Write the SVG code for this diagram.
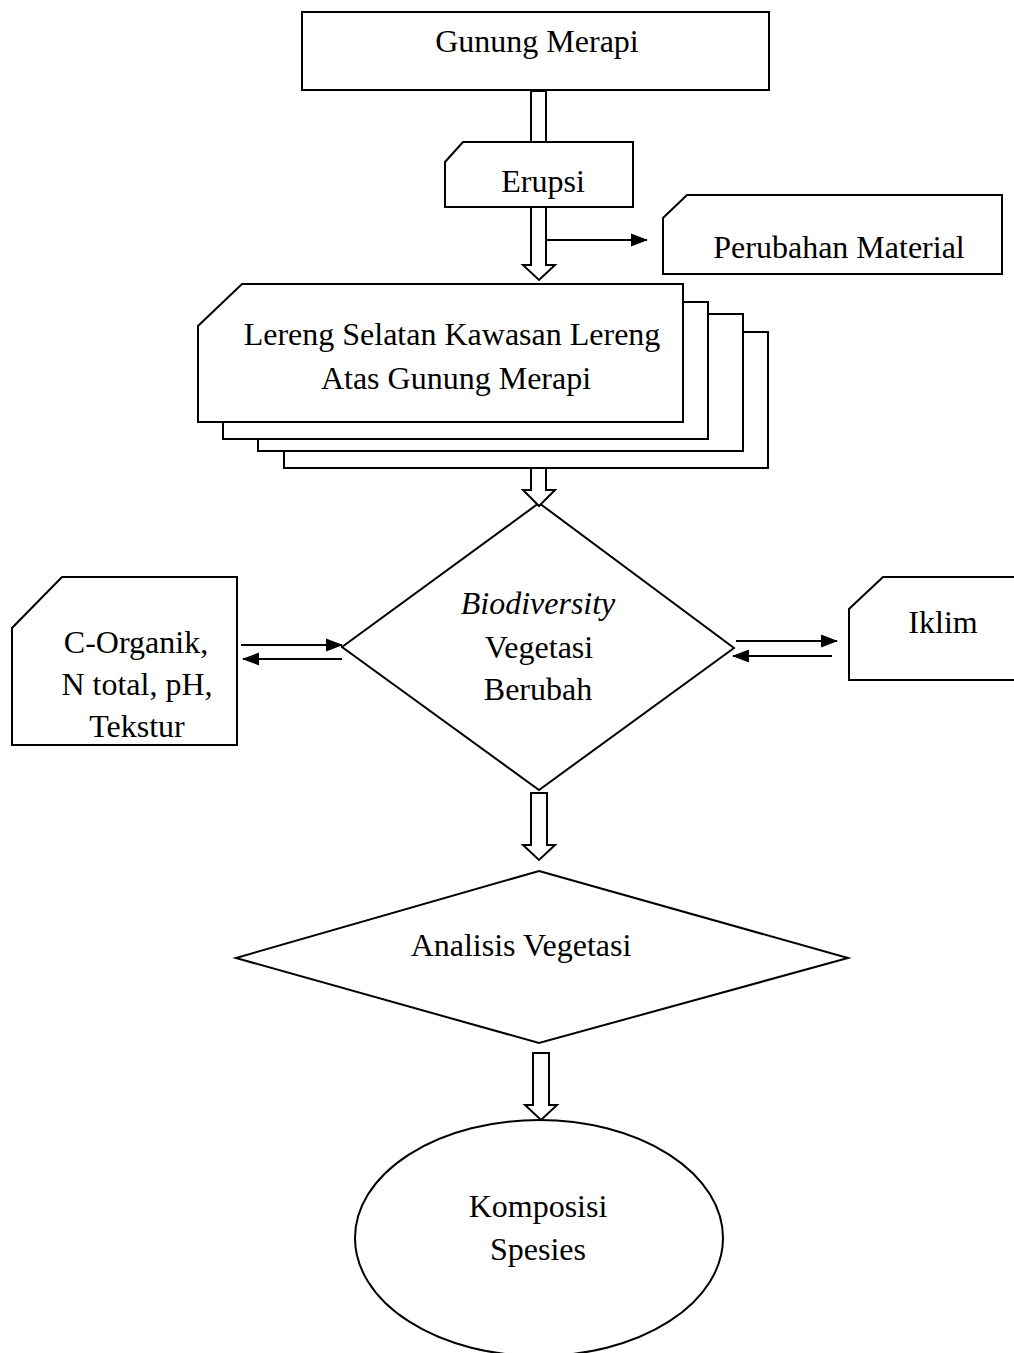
<svg xmlns="http://www.w3.org/2000/svg" width="1014" height="1353" viewBox="0 0 1014 1353">
<style>
.s{fill:#fff;stroke:#000;stroke-width:2;stroke-linejoin:miter}
.t{font-family:"Liberation Serif","Times New Roman",serif;font-size:32px;fill:#000;text-anchor:middle}
.l{stroke:#000;stroke-width:2;fill:none}
</style>
<defs>
<marker id="ah" markerUnits="userSpaceOnUse" markerWidth="17" markerHeight="14" refX="16" refY="7" orient="auto">
<path d="M0,0.5 L17,7 L0,13.5 z" fill="#000"/>
</marker>
</defs>
<rect width="1014" height="1353" fill="#fff"/>
<g id="connectors-back">
<polygon class="s" points="531,91 546,91 546,150 531,150"/>
</g>
<g id="gunung-merapi">
<rect class="s" x="302" y="12" width="467" height="78"/>
<text class="t" x="537" y="52">Gunung Merapi</text>
</g>
<g id="erupsi">
<polygon class="s" points="463,142 633,142 633,207 445,207 445,162"/>
<text class="t" x="543" y="192">Erupsi</text>
</g>
<g id="perubahan-material">
<polygon class="s" points="687,195 1002,195 1002,274 663,274 663,218"/>
<text class="t" x="839" y="258">Perubahan Material</text>
</g>
<g id="lereng">
<rect class="s" x="284" y="332" width="484" height="136"/>
<rect class="s" x="258" y="314" width="485" height="137"/>
<rect class="s" x="223" y="302" width="485" height="137"/>
<polygon class="s" points="242,284 683,284 683,422 198,422 198,326"/>
<text class="t" x="452" y="345">Lereng Selatan Kawasan Lereng</text>
<text class="t" x="456" y="389">Atas Gunung Merapi</text>
</g>
<g id="biodiversity">
<polygon class="s" points="539,503 734,648 539,790 342,647"/>
<text class="t" x="538" y="614" font-style="italic">Biodiversity</text>
<text class="t" x="539" y="658">Vegetasi</text>
<text class="t" x="538" y="700">Berubah</text>
</g>
<g id="tanah">
<polygon class="s" points="62,577 237,577 237,745 12,745 12,628"/>
<text class="t" x="136" y="653">C-Organik,</text>
<text class="t" x="137" y="695">N total, pH,</text>
<text class="t" x="137" y="737">Tekstur</text>
</g>
<g id="iklim">
<polygon class="s" points="883,577 1020,577 1020,680 849,680 849,609"/>
<text class="t" x="943" y="633">Iklim</text>
</g>
<g id="analisis-vegetasi">
<polygon class="s" points="539,871 848,958 539,1043 236,958"/>
<text class="t" x="521" y="956">Analisis Vegetasi</text>
</g>
<g id="komposisi-spesies">
<ellipse class="s" cx="539" cy="1238" rx="184" ry="118"/>
<text class="t" x="538" y="1217">Komposisi</text>
<text class="t" x="538" y="1260">Spesies</text>
</g>
<g id="connectors">
<polygon class="s" points="531,207 546,207 546,265 555,265 539,280 523,265 531,265"/>
<polygon class="s" points="531,468 546,468 546,490 555,490 539,506 523,490 531,490"/>
<polygon class="s" points="531,793 547,793 547,845 555,845 539,860 523,845 531,845"/>
<polygon class="s" points="533,1053 549,1053 549,1105 557,1105 541,1120 525,1105 533,1105"/>
<line class="l" x1="546" y1="240" x2="647" y2="240" marker-end="url(#ah)"/>
<line class="l" x1="241" y1="645" x2="342" y2="645" marker-end="url(#ah)"/>
<line class="l" x1="342" y1="659" x2="243" y2="659" marker-end="url(#ah)"/>
<line class="l" x1="736" y1="641" x2="837" y2="641" marker-end="url(#ah)"/>
<line class="l" x1="832" y1="656" x2="733" y2="656" marker-end="url(#ah)"/>
</g>
</svg>
